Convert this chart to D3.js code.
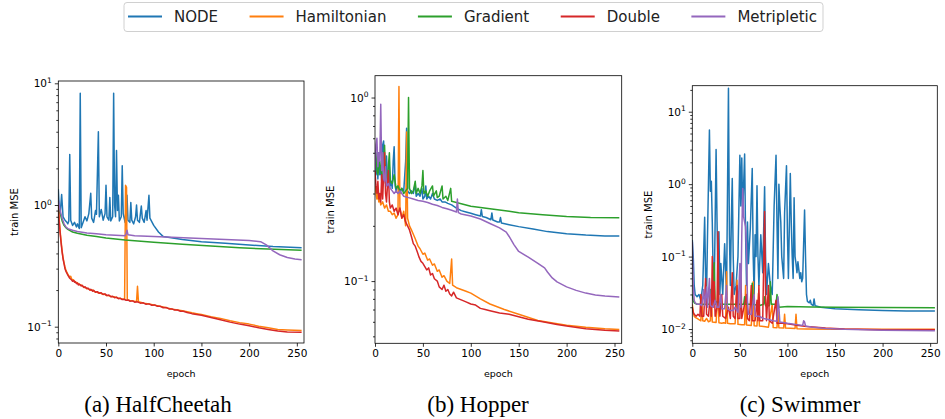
<!DOCTYPE html>
<html>
<head>
<meta charset="utf-8">
<script src="https://cdn.jsdelivr.net/npm/d3@7"></script>
<style>
  body { margin: 0; background: #fff; }
  svg { display: block; font-family: 'DejaVu Sans', sans-serif; }
</style>
</head>
<body>
<script>
const epochTicks = [0, 50, 100, 150, 200, 250]
const seriesNames = ['NODE', 'Hamiltonian', 'Gradient', 'Double', 'Metripletic']
const seriesColors = ['#1f77b4', '#ff7f0e', '#2ca02c', '#d62728', '#9467bd']
const captions = ['(a) HalfCheetah', '(b) Hopper', '(c) Swimmer']
const yTicksCheetah = [0.1, 1, 10]
const yTicksHopper = [0.1, 1]
const yTicksSwimmer = [0.01, 0.1, 1, 10]

// ---- HalfCheetah : [epoch, train MSE]
const cheetahNode = [[0,1.35],[1,0.95],[2,0.85],[3.5,1.22],[5,0.8],[7,0.75],[9,0.72],[10,0.7],[11,0.74],[12,2.6],[13,0.75],[15,0.68],[17,0.72],[19,0.66],[20,0.7],[22,0.64],[23,8.3],[24,0.65],[26,0.72],[28,0.8],[30,0.74],[32,0.85],[34,1.25],[35,0.78],[37,0.72],[39,0.9],[40,0.84],[42,4.0],[43,0.8],[45,0.92],[47,0.75],[49,0.85],[50,1.45],[51,0.8],[53,0.75],[54,1.15],[55,0.74],[57,0.8],[58,8.3],[59,1.0],[60,0.8],[61,2.8],[62,0.9],[63,1.2],[64,0.74],[66,0.8],[67,2.1],[68,0.85],[70,0.72],[72,1.2],[73,0.75],[75,0.72],[76,1.05],[77,0.75],[79,0.7],[81,0.8],[82,1.0],[83,0.75],[85,0.72],[87,0.98],[88,0.78],[90,0.72],[92,0.9],[93,0.75],[95,1.2],[96,0.78],[100,0.68],[105,0.6],[110,0.55],[120,0.535],[130,0.52],[150,0.5],[175,0.485],[200,0.47],[225,0.455],[255,0.445]]
const cheetahHam = [[0,1.0],[1,0.75],[2,0.6],[3,0.5],[4,0.42],[5,0.37],[6,0.335],[7,0.31],[8,0.29],[9,0.28],[10,0.27],[11,0.262],[12,0.255],[13,0.26],[14,0.246],[16,0.242],[18,0.232],[20,0.23],[22,0.222],[24,0.22],[26,0.213],[28,0.21],[30,0.206],[32,0.204],[34,0.199],[36,0.2],[38,0.194],[40,0.194],[42,0.189],[44,0.19],[46,0.185],[48,0.186],[50,0.181],[53,0.18],[56,0.176],[59,0.176],[62,0.172],[65,0.171],[68,0.168],[69.5,0.168],[70.5,1.45],[71.5,1.4],[72.3,0.167],[75,0.164],[78,0.163],[81,0.161],[82,0.162],[83,0.215],[84,0.16],[87,0.158],[90,0.156],[95,0.154],[100,0.151],[105,0.148],[110,0.145],[115,0.142],[120,0.139],[125,0.137],[130,0.135],[135,0.133],[140,0.13],[145,0.128],[150,0.126],[160,0.121],[170,0.117],[180,0.112],[190,0.108],[200,0.105],[210,0.101],[220,0.098],[230,0.095],[240,0.094],[255,0.093]]
const cheetahGrad = [[0,1.0],[2,0.85],[4,0.74],[6,0.68],[8,0.65],[10,0.63],[15,0.6],[20,0.585],[30,0.565],[40,0.55],[50,0.535],[70,0.515],[100,0.495],[130,0.475],[160,0.46],[190,0.445],[220,0.435],[255,0.425]]
const cheetahDouble = [[0,1.0],[1,0.72],[2,0.58],[3,0.48],[4,0.41],[5,0.36],[6,0.33],[7,0.3],[8,0.285],[9,0.275],[10,0.265],[12,0.25],[14,0.242],[15,0.236],[16,0.24],[17,0.232],[18,0.234],[19,0.226],[20,0.228],[21,0.22],[22,0.224],[24,0.216],[25,0.219],[27,0.21],[28,0.213],[30,0.205],[31,0.208],[33,0.2],[34,0.203],[36,0.196],[37,0.199],[39,0.192],[41,0.194],[43,0.188],[45,0.19],[47,0.184],[49,0.186],[51,0.18],[53,0.182],[55,0.176],[57,0.178],[59,0.173],[61,0.175],[63,0.17],[65,0.171],[67,0.167],[69,0.168],[71,0.165],[73,0.166],[75,0.162],[78,0.163],[80,0.159],[83,0.16],[86,0.156],[89,0.157],[92,0.153],[95,0.154],[98,0.15],[101,0.151],[104,0.147],[107,0.147],[110,0.143],[113,0.144],[116,0.14],[119,0.14],[122,0.137],[125,0.137],[128,0.134],[131,0.134],[135,0.131],[140,0.128],[145,0.126],[150,0.124],[160,0.119],[170,0.114],[180,0.109],[190,0.105],[200,0.102],[210,0.098],[220,0.095],[230,0.092],[240,0.0905],[255,0.09]]
const cheetahMetri = [[0,1.1],[2,0.9],[4,0.78],[6,0.7],[8,0.66],[10,0.64],[15,0.62],[20,0.605],[30,0.59],[40,0.58],[50,0.57],[60,0.565],[70,0.56],[71,0.58],[72,0.62],[73,0.57],[80,0.56],[100,0.55],[125,0.54],[150,0.53],[175,0.52],[200,0.51],[212,0.5],[218,0.47],[225,0.42],[232,0.39],[240,0.37],[248,0.36],[255,0.355]]

// ---- Hopper
const hopperNode = [[0,0.42],[1,0.38],[2,0.45],[3,0.36],[4,0.5],[5,0.38],[6,0.42],[7,0.35],[8,0.55],[9,0.58],[10,0.38],[11,0.34],[12,0.48],[13,0.35],[14,0.33],[15,0.42],[16,0.33],[17,0.35],[18,0.32],[19,0.45],[20,0.54],[21,0.33],[22,0.31],[24,0.33],[26,0.3],[28,0.32],[30,0.31],[32,0.45],[33,0.68],[34,0.31],[36,0.3],[38,0.31],[40,0.3],[42,0.34],[43,0.29],[45,0.3],[47,0.29],[49,0.32],[50,0.28],[52,0.29],[53,0.33],[54,0.28],[56,0.29],[58,0.28],[60,0.3],[62,0.28],[65,0.275],[68,0.28],[70,0.27],[73,0.27],[76,0.265],[80,0.26],[85,0.25],[90,0.242],[95,0.238],[100,0.234],[105,0.23],[110,0.226],[111,0.245],[112,0.225],[116,0.222],[121,0.216],[122,0.235],[123,0.215],[128,0.21],[130,0.21],[131,0.222],[132,0.207],[140,0.203],[150,0.198],[165,0.192],[180,0.186],[200,0.181],[220,0.178],[240,0.176],[255,0.176]]
const hopperHam = [[0,0.33],[1,0.3],[2,0.28],[3,0.3],[4,0.27],[5,0.28],[6,0.26],[8,0.27],[10,0.25],[12,0.26],[14,0.24],[16,0.24],[18,0.23],[20,0.235],[22,0.22],[24,0.23],[25,1.15],[26,0.25],[28,0.22],[30,0.24],[32,0.2],[33,0.65],[34,0.22],[36,0.2],[38,0.19],[40,0.18],[42,0.17],[45,0.155],[47,0.15],[50,0.14],[52,0.142],[55,0.13],[57,0.132],[60,0.122],[62,0.124],[65,0.113],[67,0.115],[70,0.105],[72,0.107],[75,0.1],[78,0.097],[80,0.132],[81,0.095],[85,0.092],[90,0.09],[95,0.088],[100,0.086],[110,0.08],[120,0.075],[135,0.07],[150,0.066],[170,0.061],[187,0.059],[200,0.0575],[220,0.056],[240,0.055],[255,0.0545]]
const hopperGrad = [[0,0.42],[1,0.5],[2,0.4],[3,0.38],[5,0.45],[6,0.4],[8,0.36],[10,0.55],[11,0.38],[13,0.36],[15,0.5],[16,0.35],[18,0.34],[20,0.38],[22,0.32],[24,0.33],[26,0.31],[28,0.32],[30,0.3],[32,0.31],[34,0.32],[35,1.0],[36,0.32],[38,0.3],[40,0.31],[42,0.35],[43,0.3],[45,0.32],[47,0.3],[49,0.33],[50,0.4],[51,0.3],[53,0.31],[55,0.29],[57,0.31],[60,0.33],[61,0.29],[64,0.31],[65,0.285],[67,0.29],[70,0.33],[71,0.28],[74,0.29],[76,0.275],[79,0.32],[80,0.272],[85,0.268],[90,0.264],[95,0.26],[100,0.256],[110,0.252],[120,0.248],[130,0.244],[140,0.24],[150,0.236],[175,0.23],[200,0.225],[225,0.222],[255,0.221]]
const hopperDouble = [[0,0.4],[1,0.33],[2,0.3],[3,0.35],[4,0.28],[5,0.3],[6,0.27],[7,0.38],[8,0.28],[10,0.5],[11,0.3],[12,0.27],[14,0.4],[15,0.27],[16,0.25],[18,0.26],[20,0.24],[22,0.25],[24,0.23],[26,0.25],[28,0.22],[30,0.23],[32,0.21],[34,0.2],[36,0.19],[38,0.175],[40,0.16],[42,0.155],[44,0.145],[46,0.135],[48,0.128],[50,0.125],[52,0.12],[54,0.115],[56,0.118],[58,0.108],[60,0.11],[62,0.103],[65,0.1],[67,0.093],[70,0.09],[72,0.095],[74,0.088],[76,0.09],[78,0.085],[80,0.083],[82,0.087],[85,0.081],[90,0.079],[95,0.077],[100,0.075],[105,0.074],[110,0.071],[115,0.07],[120,0.069],[130,0.067],[140,0.066],[150,0.064],[160,0.062],[175,0.06],[190,0.058],[200,0.057],[220,0.055],[240,0.054],[255,0.0535]]
const hopperMetri = [[0,0.4],[1,0.55],[2,0.6],[3,0.42],[4,0.5],[5,0.45],[6,0.92],[7,0.4],[8,0.5],[9,0.36],[10,0.35],[11,0.42],[12,0.33],[14,0.34],[16,0.32],[18,0.31],[20,0.3],[22,0.31],[24,0.3],[26,0.31],[28,0.3],[30,0.29],[35,0.285],[40,0.28],[45,0.275],[50,0.272],[55,0.268],[60,0.262],[65,0.258],[70,0.252],[75,0.248],[80,0.243],[85,0.238],[86,0.28],[87,0.236],[90,0.232],[100,0.226],[110,0.218],[120,0.206],[130,0.195],[137,0.185],[140,0.175],[145,0.158],[150,0.145],[160,0.135],[170,0.125],[177,0.118],[180,0.112],[185,0.104],[190,0.099],[200,0.093],[210,0.089],[220,0.086],[230,0.084],[240,0.083],[255,0.082]]

// ---- Swimmer
const swimmerNode = [[0,0.17],[1,0.1],[2,0.04],[3,0.03],[5,0.028],[7,0.03],[9,0.025],[11,0.04],[13,0.35],[14,0.05],[15,0.03],[16,0.2],[18,5.6],[19,0.8],[20,1.1],[21,0.3],[22,0.05],[23,0.03],[25,3.0],[26,0.3],[27,0.05],[28,0.22],[29,0.03],[30,0.08],[32,0.03],[34,0.15],[36,0.03],[38,21],[39,0.2],[40,0.04],[41,0.3],[42,1.2],[43,0.1],[44,0.03],[46,0.04],[48,0.1],[50,2.5],[51,0.5],[52,2.3],[53,0.4],[55,2.6],[56,0.2],[57,0.04],[58,0.3],[59,0.08],[61,0.25],[63,1.65],[64,0.1],[65,0.03],[66,0.2],[67,0.1],[68,0.95],[69,0.1],[70,0.04],[72,0.2],[74,0.06],[76,0.92],[77,0.1],[78,0.03],[80,0.08],[82,0.04],[84,0.03],[86,0.5],[88,2.5],[89,0.3],[90,0.05],[91,1.0],[92,0.5],[93,0.3],[94,0.1],[96,0.05],[97,0.4],[99,1.8],[100,0.2],[101,0.05],[103,1.4],[104,0.3],[105,0.1],[106,0.05],[107,0.65],[108,0.1],[109,0.08],[110,0.06],[111,0.085],[113,0.05],[114,0.06],[115,0.045],[116,0.05],[118,0.44],[119,0.1],[120,0.03],[121,0.024],[123,0.023],[124,0.025],[125,0.022],[127,0.021],[128,0.026],[129,0.021],[135,0.02],[150,0.019],[175,0.0185],[200,0.018],[225,0.0178],[255,0.0177]]
const swimmerHam = [[0,0.022],[1,0.017],[2,0.015],[3,0.0145],[5,0.014],[7,0.0135],[9,0.013],[10,0.028],[11,0.013],[13,0.0128],[15,0.014],[17,0.0126],[19,0.013],[20,0.03],[21,0.0125],[23,0.0124],[25,0.0123],[27,0.035],[28,0.0122],[31,0.012],[33,0.0122],[35,0.012],[36,0.062],[37,0.012],[40,0.0118],[43,0.0118],[45,0.0118],[47,0.047],[48,0.0116],[52,0.0115],[55,0.0115],[56,0.04],[57,0.0114],[62,0.0112],[64,0.045],[65,0.0111],[68,0.011],[69.5,0.031],[70.5,0.011],[75,0.0108],[80,0.0106],[84,0.022],[85,0.0105],[89,0.0104],[90,0.018],[91,0.0104],[96,0.0103],[97,0.016],[98,0.0103],[108,0.0102],[109,0.016],[110,0.0101],[120,0.01],[150,0.0099],[200,0.0099],[255,0.0099]]
const swimmerGrad = [[0,0.03],[1,0.025],[2,0.023],[5,0.022],[10,0.022],[15,0.022],[18,0.022],[19,0.035],[20,0.022],[23,0.082],[24,0.022],[26,0.024],[30,0.022],[40,0.022],[50,0.022],[54,0.022],[55,0.028],[56,0.022],[62,0.022],[63,0.043],[64,0.022],[70,0.021],[75,0.022],[76,0.028],[77,0.021],[81,0.021],[82,0.045],[83,0.022],[88,0.022],[89,0.03],[91,0.02],[100,0.0205],[125,0.0202],[150,0.02],[200,0.0198],[255,0.0197]]
const swimmerDouble = [[0,0.02],[1,0.017],[2,0.016],[4,0.015],[6,0.016],[8,0.015],[9,0.03],[10,0.015],[12,0.015],[14,0.05],[15,0.016],[17,0.015],[19,0.03],[20,0.015],[21,0.1],[22,0.02],[23,0.045],[24,0.015],[26,0.02],[27,0.22],[28,0.02],[29,0.015],[31,0.03],[32,0.015],[35,0.014],[38,0.02],[40,0.014],[42,0.06],[43,0.015],[45,0.014],[47,0.04],[48,0.014],[50,0.014],[51,0.07],[52,0.014],[57,0.03],[58,0.014],[60,0.013],[62,0.04],[63,0.013],[66,0.013],[68,0.025],[69,0.013],[70,0.04],[71,0.013],[74,0.013],[76,0.42],[77,0.03],[78,0.013],[80,0.04],[81,0.013],[84,0.012],[88,0.025],[89,0.012],[95,0.012],[100,0.0118],[110,0.0113],[120,0.0108],[140,0.0103],[160,0.01],[200,0.0098],[255,0.0098]]
const swimmerMetri = [[0,0.16],[1,0.04],[2,0.025],[3,0.023],[5,0.022],[8,0.022],[10,0.021],[12,0.035],[13,0.021],[15,0.038],[16,0.02],[18,0.05],[19,0.021],[22,0.02],[24,0.025],[26,0.02],[28,0.02],[30,0.03],[31,0.019],[34,0.019],[36,0.04],[37,0.019],[40,0.018],[43,0.018],[45,0.02],[48,0.017],[50,0.08],[51,0.02],[52,0.2],[53,0.87],[54,0.35],[55,0.3],[56,0.26],[57,0.12],[58,0.025],[59,0.016],[62,0.016],[65,0.03],[66,0.015],[70,0.015],[75,0.014],[80,0.0135],[85,0.013],[89,0.0128],[90,0.028],[91,0.02],[92,0.0125],[100,0.012],[110,0.0115],[116,0.0112],[117,0.013],[118,0.0125],[119,0.011],[125,0.0107],[140,0.0102],[160,0.0099],[200,0.0096],[255,0.0095]]

// layout of the three axes boxes (pixels) and their log ranges
const panels = [
  { left: 58.3, right: 304, top: 81, bottom: 343, yLog: [-1.134, 1.019], ticks: yTicksCheetah,
    series: [cheetahNode, cheetahHam, cheetahGrad, cheetahDouble, cheetahMetri], labelX: 14, captionX: 158 },
  { left: 375, right: 621.7, top: 75.7, bottom: 343.3, yLog: [-1.339, 0.119], ticks: yTicksHopper,
    series: [hopperNode, hopperHam, hopperGrad, hopperDouble, hopperMetri], labelX: 330, captionX: 478 },
  { left: 692.3, right: 937.3, top: 85.7, bottom: 343.3, yLog: [-2.197, 1.359], ticks: yTicksSwimmer,
    series: [swimmerNode, swimmerHam, swimmerGrad, swimmerDouble, swimmerMetri], labelX: 648, captionX: 800 },
]

const svg = d3.select('body').append('svg')
  .attr('width', 945)
  .attr('height', 419)

const minorTicks = ([lo, hi]) => {
  const out = []
  for (let k = Math.floor(lo); k <= Math.ceil(hi); k++) {
    for (let m = 2; m <= 9; m++) {
      const v = m * Math.pow(10, k)
      if (Math.log10(v) >= lo && Math.log10(v) <= hi) out.push(v)
    }
  }
  return out
}

const drawPanel = (panel, i) => {
  const x = d3.scaleLinear().domain([0, 257.5]).range([panel.left, panel.right])
  const y = d3.scaleLog()
    .domain(panel.yLog.map(p => Math.pow(10, p)))
    .range([panel.bottom, panel.top])

  const g = svg.append('g')

  g.append('clipPath').attr('id', `clip${i}`)
    .append('rect')
    .attr('x', panel.left).attr('y', panel.top)
    .attr('width', panel.right - panel.left).attr('height', panel.bottom - panel.top)

  const line = d3.line().x(d => x(d[0])).y(d => y(d[1]))

  g.append('g').attr('clip-path', `url(#clip${i})`)
    .selectAll('path')
    .data(panel.series)
    .join('path')
    .attr('d', d => line(d))
    .attr('fill', 'none')
    .attr('stroke', (d, j) => seriesColors[j])
    .attr('stroke-width', 1.5)
    .attr('stroke-linejoin', 'round')

  // x axis
  const xAxis = g.append('g')
    .attr('transform', `translate(0,${panel.bottom})`)
    .call(d3.axisBottom(x).tickValues(epochTicks).tickSize(3.5).tickSizeOuter(0).tickPadding(3))
  xAxis.select('.domain').remove()
  xAxis.selectAll('text').attr('font-size', 10.5).attr('fill', '#000').attr('font-family', 'DejaVu Sans')

  // y axis: minor then major ticks
  const yMinor = g.append('g')
    .attr('transform', `translate(${panel.left},0)`)
    .call(d3.axisLeft(y).tickValues(minorTicks(panel.yLog)).tickSize(2).tickSizeOuter(0).tickFormat(() => ''))
  yMinor.select('.domain').remove()

  const yMajor = g.append('g')
    .attr('transform', `translate(${panel.left},0)`)
    .call(d3.axisLeft(y).tickValues(panel.ticks).tickSize(3.5).tickSizeOuter(0).tickFormat(() => ''))
  yMajor.select('.domain').remove()
  yMajor.selectAll('.tick').each(function (v) {
    const t = d3.select(this).select('text')
      .attr('x', -6.5)
      .attr('dy', '0.35em')
      .attr('font-size', 10.5)
      .attr('fill', '#000')
      .attr('font-family', 'DejaVu Sans')
    const e = Math.round(Math.log10(v))
    t.append('tspan').text('10')
    t.append('tspan').text(String(e).replace('-', '\u2212'))
      .attr('font-size', 7.5)
      .attr('dy', -4.5)
  })
  g.selectAll('.tick line').attr('stroke', '#000').attr('stroke-width', 0.8)

  // frame
  g.append('rect')
    .attr('x', panel.left).attr('y', panel.top)
    .attr('width', panel.right - panel.left).attr('height', panel.bottom - panel.top)
    .attr('fill', 'none').attr('stroke', '#000').attr('stroke-width', 0.8)

  // labels
  g.append('text')
    .attr('x', (panel.left + panel.right) / 2).attr('y', 376.5)
    .attr('text-anchor', 'middle').attr('font-size', 9.5)
    .text('epoch')

  g.append('text')
    .attr('transform', `translate(${panel.labelX},${(panel.top + panel.bottom) / 2}) rotate(-90)`)
    .attr('text-anchor', 'middle').attr('dy', '0.35em').attr('font-size', 10)
    .text('train MSE')

  g.append('text')
    .attr('x', panel.captionX).attr('y', 412)
    .attr('text-anchor', 'middle')
    .attr('font-family', '"Liberation Serif", "Times New Roman", serif')
    .attr('font-size', 23)
    .text(captions[i])
}

panels.forEach(drawPanel)

// legend
const legend = svg.append('g')
const legendBox = legend.append('rect')
  .attr('x', 124).attr('y', 2.5).attr('height', 29).attr('rx', 3)
  .attr('fill', '#fff').attr('stroke', '#d0d0d0').attr('stroke-width', 1)

let cursor = 128
seriesNames.forEach((name, i) => {
  legend.append('line')
    .attr('x1', cursor).attr('x2', cursor + 34)
    .attr('y1', 16.5).attr('y2', 16.5)
    .attr('stroke', seriesColors[i]).attr('stroke-width', 2)
  const label = legend.append('text')
    .attr('x', cursor + 46).attr('y', 22)
    .attr('font-size', 15).attr('fill', '#222')
    .text(name)
  cursor += 46 + label.node().getComputedTextLength() + 31.5
})
legendBox.attr('width', cursor - 31.5 + 6 - 124)
</script>
</body>
</html>
